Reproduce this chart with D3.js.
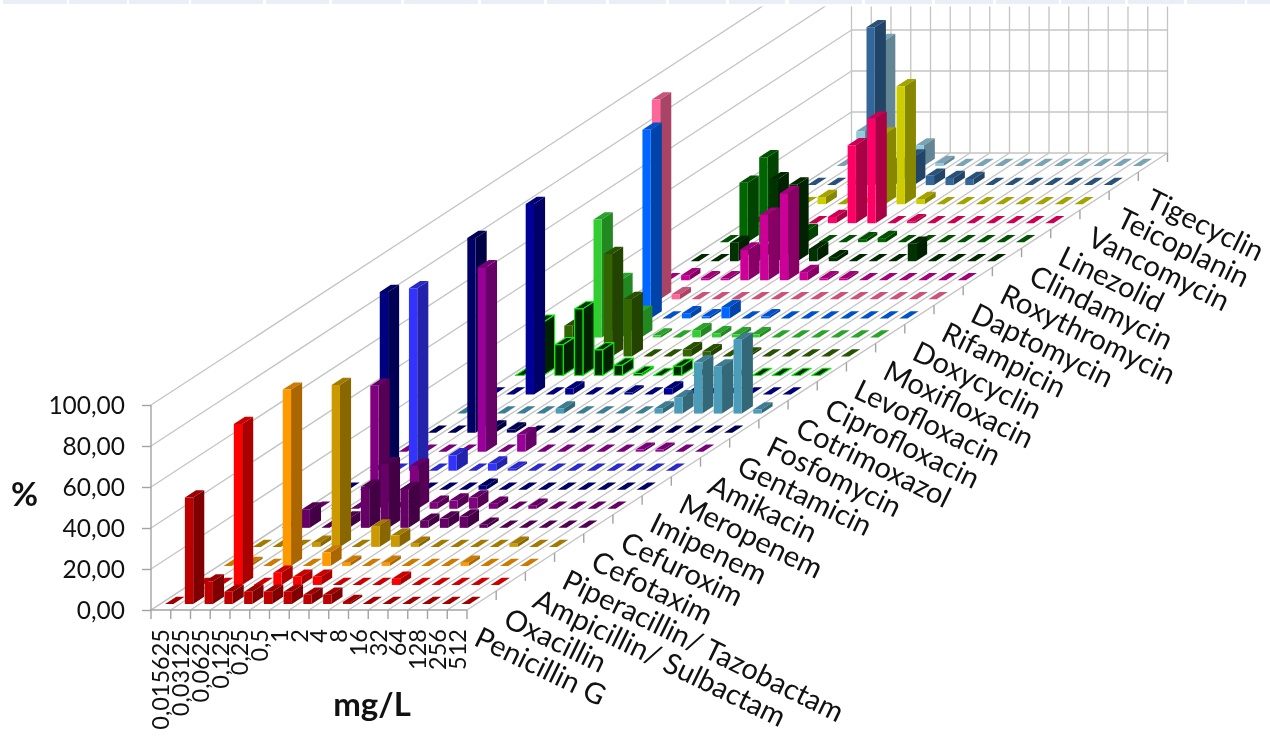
<!DOCTYPE html>
<html><head><meta charset="utf-8">
<script src="https://cdnjs.cloudflare.com/ajax/libs/d3/7.8.5/d3.min.js"></script>
<style>html,body{margin:0;padding:0;background:#fff}svg{display:block;filter:blur(0.45px)}text{font-family:Lato,"Open Sans",sans-serif;fill:#111}</style>
</head><body><svg id="c" width="1270" height="737"></svg>
<script>
const categories=["0,015625","0,03125","0,0625","0,125","0,25","0,5","1","2","4","8","16","32","64","128","256","512"];
const drugs=["Penicillin G","Oxacillin","Ampicillin/ Sulbactam","Piperacillin/ Tazobactam","Cefotaxim","Cefuroxim","Imipenem","Meropenem","Amikacin","Gentamicin","Fosfomycin","Cotrimoxazol","Ciprofloxacin","Levofloxacin","Moxifloxacin","Doxycyclin","Rifampicin","Daptomycin","Roxythromycin","Clindamycin","Linezolid","Vancomycin","Teicoplanin","Tigecyclin"];
const yTicks=[0,20,40,60,80,100];
const penicillinG=[0,52,11,6,6,6,6,4.5,4.5,1,0,0,0,0,0,0];
const oxacillin=[0,0,78.5,0,6,4,4,0,0,0,3,0,0,0,0,0];
const ampSulb=[0,1,0,86,0,6.5,1.5,0,1.5,0,0,0,1.5,0,0,0];
const pipTazo=[0,0,0,2,79,0,10,5.5,1.5,0,0,0,0,1.5,0,0];
const cefotaxim=[0,9,0,4.5,20,31,19,3.5,4.5,5.5,1.5,0,0,0,0,0];
const cefuroxim=[0,0,0,60,0,21,3,4,5.5,2.5,0,1.5,0,0,0,0];
const imipenem=[0,0,96.5,0,0,0,0,2,0,0,0,0,0,0,0,0];
const meropenem=[0,0,89,0,7.5,0,3.5,1,0,0,0,0,0,0,0,0];
const amikacin=[0,0,0,0,90,0,8.5,0,0,0,0,0,1,1,0,0];
const gentamicin=[0,0,95,2.5,1.5,0,0,0,0,0,0,0,0,0,0,0];
const fosfomycin=[0,0,0,0,0,2.5,0,0,0,0,2.5,8,25,23,36,2];
const cotrimoxazol=[0,0,93,0,3,0,0,1,0,3,0,0,0,0,0,0];
const ciprofloxacin=[0,26,15,32.5,12.5,5,1,0,4.5,0,0,0,0,0,0,0];
const levofloxacin=[0,15,0,50,28,0,0,3.5,2.5,0,1,0,0,0,0,0];
const moxifloxacin=[0,57.5,28,12,1,0,3.5,2,1.5,1.5,0,0,0,0,0,0];
const doxycyclin=[0,0,92,0,2.5,1,5.5,0,1,0,0,0,0,0,0,0];
const rifampicin=[0,97.5,2.5,0,0,0,0,0,0,0,0,0,0,0,0,0];
const daptomycin=[0,2.5,1,1,15,32,42.5,4,1,1,0,0,0,0,0,0];
const roxythromycin=[0,0,9,5,40,37.5,6,2,0,0,0,8.5,0,0,0,0];
const clindamycin=[0,29,41.5,0,5.5,0,0,1.5,2,0,0,0,0,0,0,0];
const linezolid=[0,0,0,0,3,38,51,0,1,0,0,0,0,0,0,0];
const vancomycin=[0,0,3.5,0,0,34,57.5,2.5,0,0,0,0,0,0,0,0];
const teicoplanin=[0,0,0,77,10,14,4.5,3.5,3,0,0,0,0,0,0,0];
const tigecyclin=[0,17,61,0,10,1.5,0,0,0,0,0,0,0,0,0,0];
const series=[penicillinG,oxacillin,ampSulb,pipTazo,cefotaxim,cefuroxim,imipenem,meropenem,amikacin,gentamicin,fosfomycin,cotrimoxazol,ciprofloxacin,levofloxacin,moxifloxacin,doxycyclin,rifampicin,daptomycin,roxythromycin,clindamycin,linezolid,vancomycin,teicoplanin,tigecyclin];
const fronts=["#bd0000","#ff0000","#ff9900","#cc9900","#660066","#800080","#000080","#3333ff","#990099","#000066","#4b9cb8","#000099","#002a00","#336600","#33cc33","#0066ff","#ff6699","#cc0099","#003300","#006600","#ff0066","#cccc00","#336699","#93c9de"];
const sides=["#7e0000","#aa0000","#aa6600","#886600","#440044","#550055","#000055","#2222aa","#660066","#000044","#326878","#000066","#002200","#224400","#228822","#0044aa","#aa4466","#880066","#002200","#004400","#aa0044","#888800","#224466","#628694"];
const tops=["#a00000","#cc0000","#cc7a00","#a37a00","#520052","#660066","#000066","#2929cc","#7a007a","#000052","#3c7d93","#00007a","#002a00","#295200","#29a329","#0052cc","#cc527a","#a3007a","#002900","#005200","#cc0052","#a3a300","#29527a","#7aa3b4"];
const outlines={12:"#11ee11"};
const bandSegments=[[3,67],[69,127],[129,189],[191,263],[266,329],[332,401],[404,478],[481,544],[547,606],[609,666],[669,726],[729,785],[789,862],[865,932],[935,993],[996,1059],[1061,1125],[1128,1184],[1187,1245],[1247,1270]];

const svg=d3.select("#c");
const x0=151,y0=610;
const sx=d3.scaleLinear().domain([0,categories.length]).range([0,316]);
const zx=d3.scaleLinear().domain([0,drugs.length]).range([0,700.5]);
const zy=d3.scaleLinear().domain([0,drugs.length]).range([0,-457]);
const vy=d3.scaleLinear().domain([0,100]).range([0,-205]);
const px=(c,s)=>x0+sx(c)+zx(s), py=(s,v)=>y0+zy(s)+vy(v);
const poly=pts=>pts.map(p=>p.join(",")).join(" ");
const grid="#c4c4c4", axisC="#a3a3a3";

svg.append("g").selectAll("rect").data(bandSegments).join("rect")
 .attr("x",d=>d[0]).attr("y",0).attr("width",d=>d[1]-d[0]).attr("height",4).attr("fill","#eaeff7");

svg.append("clipPath").attr("id","wallClip").append("rect").attr("x",0).attr("y",6.5).attr("width",1270).attr("height",731);
const walls=svg.append("g").attr("clip-path","url(#wallClip)").attr("fill","none").attr("stroke",grid).attr("stroke-width",1.3);
const nC=categories.length,nS=drugs.length;
d3.range(20,120,20).concat([0]).forEach(v=>{
 walls.append("line").attr("x1",px(0,0)).attr("y1",py(0,v)).attr("x2",px(0,nS)).attr("y2",py(nS,v));
 walls.append("line").attr("x1",px(0,nS)).attr("y1",py(nS,v)).attr("x2",px(nC,nS)).attr("y2",py(nS,v));
});
d3.range(0,nC+1).forEach(c=>{
 walls.append("line").attr("x1",px(c,0)).attr("y1",py(0,0)).attr("x2",px(c,nS)).attr("y2",py(nS,0));
 walls.append("line").attr("x1",px(c,nS)).attr("y1",py(nS,0)).attr("x2",px(c,nS)).attr("y2",py(nS,100));
});
const ax=svg.append("g").attr("stroke",axisC).attr("stroke-width",1.4);
d3.range(0,nC+1).forEach(c=>ax.append("line").attr("x1",px(c,0)).attr("y1",y0).attr("x2",px(c,0)).attr("y2",y0+9));
ax.append("line").attr("x1",px(0,0)).attr("y1",y0).attr("x2",px(nC,0)).attr("y2",y0);
d3.range(1,nS+1).forEach(s=>ax.append("line").attr("x1",px(nC,s)).attr("y1",py(s,0)).attr("x2",px(nC,s)).attr("y2",py(s,0)+9));

const fmt=d3.formatLocale({decimal:",",thousands:".",grouping:[3],currency:["","€"]}).format(".2f");
const yAxisScale=d3.scaleLinear().domain([0,100]).range([y0,y0-205]);
const yg=svg.append("g").attr("transform",`translate(${x0},0)`).call(d3.axisLeft(yAxisScale).tickValues(yTicks).tickFormat(fmt).tickSize(9).tickPadding(17));
yg.selectAll("path,line").attr("stroke",axisC).attr("stroke-width",1.4);
yg.selectAll("path").attr("d",`M0,${y0}V${y0-205}`);
yg.selectAll("text").style("font-size","24.5px").attr("fill","#111").attr("dy","0.36em");

const gapX=.25,wid=.42,gapZ=.315,dep=.38;
const bars=svg.append("g");
for(let s=nS-1;s>=0;s--){
 series[s].forEach((v,c)=>{
  const a=c+gapX,b=c+gapX+wid,z0=s+gapZ,z1=s+gapZ+dep;
  const P=(cc,zz,h)=>[+(x0+sx(cc)+zx(zz)).toFixed(2),+(py(zz,h)).toFixed(2)];
  const g=bars.append("g").attr("stroke",outlines[s]||"none").attr("stroke-width",outlines[s]?1.1:0).attr("stroke-linejoin","round");
  g.append("polygon").attr("points",poly([P(a,z0,v),P(b,z0,v),P(b,z1,v),P(a,z1,v)])).attr("fill",tops[s]);
  if(v>0){
   g.append("polygon").attr("points",poly([P(b,z0,0),P(b,z1,0),P(b,z1,v),P(b,z0,v)])).attr("fill",sides[s]);
   g.append("polygon").attr("points",poly([P(a,z0,0),P(b,z0,0),P(b,z0,v),P(a,z0,v)])).attr("fill",fronts[s]);
  }
 });
}

svg.append("g").selectAll("text").data(categories).join("text")
 .attr("transform",(d,i)=>`translate(${px(i+.5,0)},629) rotate(-90)`)
 .attr("text-anchor","end").attr("dy","0.36em").style("font-size","23.5px").text(d=>d);
svg.append("g").selectAll("text").data(drugs).join("text")
 .attr("transform",(d,i)=>`translate(${px(nC,i+.5)-9},${py(i+.5,0)+44}) rotate(26)`)
 .style("font-size","29px").text(d=>d);
svg.append("text").attr("x",372).attr("y",716).attr("text-anchor","middle").style("font-size","33px").style("font-weight",700).text("mg/L");
svg.append("text").attr("x",24.5).attr("y",506).attr("text-anchor","middle").style("font-size","33px").style("font-weight",700).text("%");
</script></body></html>
